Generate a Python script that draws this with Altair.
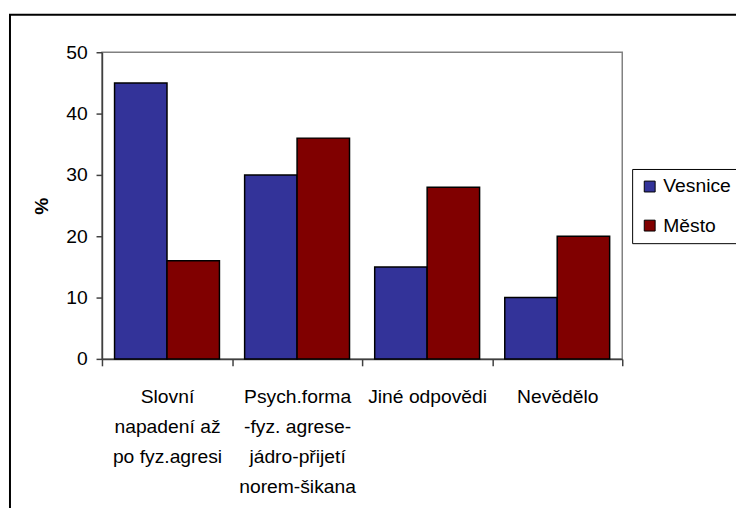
import altair as alt
import pandas as pd

categories = [
    "Slovní\nnapadení až\npo fyz.agresi",
    "Psych.forma\n-fyz. agrese-\njádro-přijetí\nnorem-šikana",
    "Jiné odpovědi",
    "Nevědělo",
]
series = ["Vesnice", "Město"]
vesnice = [45, 30, 15, 10]
mesto = [16, 36, 28, 20]
colors = ["#333399", "#800000"]
y_ticks = [0, 10, 20, 30, 40, 50]

rows = []
for c, v, m in zip(categories, vesnice, mesto):
    rows.append({"category": c, "series": "Vesnice", "value": v})
    rows.append({"category": c, "series": "Město", "value": m})
df = pd.DataFrame(rows)

FONT = "Liberation Sans"
FS = 19.5

bars = alt.Chart(df).mark_bar(stroke="black", strokeWidth=1.5).encode(
    x=alt.X(
        "category:N",
        sort=categories,
        scale=alt.Scale(paddingInner=0, paddingOuter=0),
        axis=alt.Axis(
            title=None,
            labelAngle=0,
            labelExpr="split(datum.label, '\\n')",
            labelFontSize=FS,
            labelLineHeight=30.5,
            labelPadding=22,
            labelLimit=0,
            labelOverlap=False,
            labelColor="black",
            tickBand="extent",
            tickSize=7,
            tickColor="#404040",
            domainColor="#404040",
            domainWidth=1.5,
            tickWidth=1.5,
        ),
    ),
    xOffset=alt.XOffset(
        "series:N",
        sort=series,
        scale=alt.Scale(paddingInner=0, paddingOuter=0.24),
    ),
    y=alt.Y(
        "value:Q",
        scale=alt.Scale(domain=[0, 50], nice=False, zero=True),
        axis=alt.Axis(
            title="%",
            titleFontSize=FS,
            titleFontWeight="bold",
            titleColor="black",
            titlePadding=14,
            values=y_ticks,
            labelFontSize=FS,
            labelColor="black",
            labelPadding=9,
            tickSize=6,
            tickColor="#404040",
            domainColor="#404040",
            domainWidth=1.5,
            tickWidth=1.5,
            grid=False,
        ),
    ),
    color=alt.Color(
        "series:N",
        sort=series,
        scale=alt.Scale(domain=series, range=colors),
        legend=alt.Legend(
            title=None,
            orient="none",
            legendX=536,
            legendY=118,
            strokeColor="black",
            fillColor="white",
            padding=8,
            symbolType="square",
            symbolSize=121,
            symbolStrokeColor="black",
            symbolStrokeWidth=1,
            symbolOpacity=1,
            labelFontSize=FS,
            labelColor="black",
            labelOffset=4,
            rowPadding=18.5,
            labelLimit=0,
        ),
    ),
)

frame = alt.Chart(pd.DataFrame({"a": [0]})).mark_rect(
    fill="white", fillOpacity=0, stroke="black", strokeWidth=2
).encode(
    x=alt.value(-93),
    x2=alt.value(720),
    y=alt.value(-38),
    y2=alt.value(600),
)

chart = alt.layer(frame, bars).properties(
    width=526,
    height=310,
    padding={"left": 95, "top": 42, "right": 115, "bottom": 148},
    autosize=alt.AutoSizeParams(type="none"),
    background="white",
).configure(font=FONT).configure_view(stroke="#808080", strokeWidth=1.5)

chart.save("out.html", embed_options={"renderer": "svg", "actions": False})
